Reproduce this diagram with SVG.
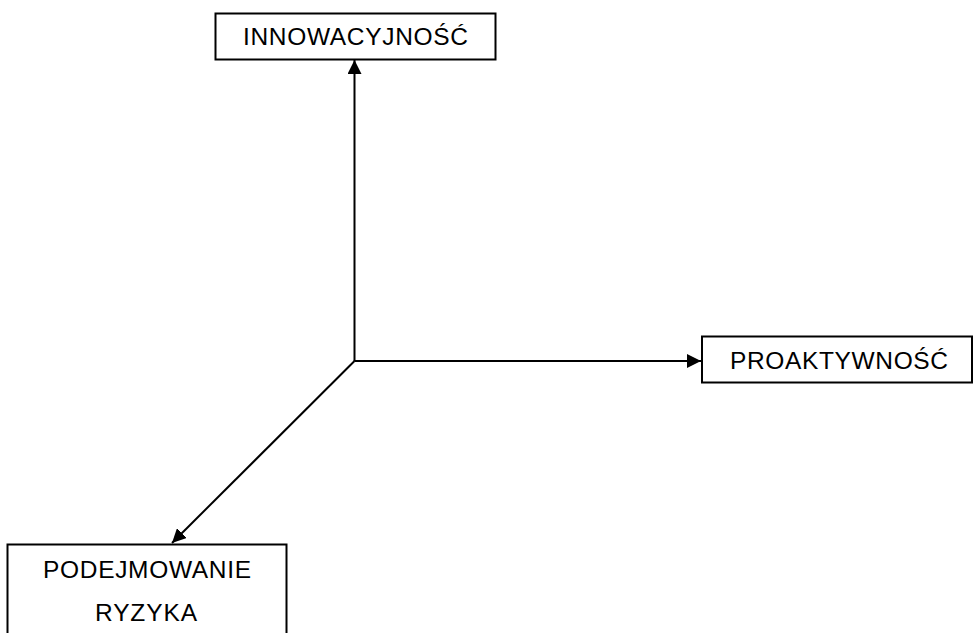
<svg xmlns="http://www.w3.org/2000/svg" width="973" height="633" viewBox="0 0 973 633">
  <style>
    .box { fill: #ffffff; stroke: #000000; stroke-width: 2; }
    .lbl { font-family: "Liberation Sans", Arial, sans-serif; font-size: 24.5px; fill: #000000; }
    .edge { fill: none; stroke: #000000; stroke-width: 2; }
  </style>
  <defs>
    <marker id="arrow" viewBox="0 0 14 14" refX="14" refY="7" markerWidth="14" markerHeight="14" markerUnits="userSpaceOnUse" orient="auto">
      <path d="M0,0 L14,7 L0,14 Z" fill="#000000"/>
    </marker>
  </defs>
  <rect width="973" height="633" fill="#ffffff"/>

  <g id="connectors">
    <line class="edge" x1="354.5" y1="361" x2="354.5" y2="60" marker-end="url(#arrow)"/>
    <line class="edge" x1="354.5" y1="361" x2="701" y2="361" marker-end="url(#arrow)"/>
    <line class="edge" x1="354.5" y1="361" x2="172" y2="543" marker-end="url(#arrow)"/>
  </g>

  <g id="innowacyjnosc">
    <rect class="box" x="215.5" y="13.5" width="280" height="46"/>
    <text class="lbl" x="243" y="45" textLength="225" lengthAdjust="spacing">INNOWACYJNOŚĆ</text>
  </g>

  <g id="proaktywnosc">
    <rect class="box" x="702" y="336.5" width="270" height="46"/>
    <text class="lbl" x="730" y="369" textLength="218" lengthAdjust="spacing">PROAKTYWNOŚĆ</text>
  </g>

  <g id="podejmowanie-ryzyka">
    <rect class="box" x="7.5" y="544.5" width="279" height="100"/>
    <text class="lbl" x="43" y="578" textLength="208" lengthAdjust="spacing">PODEJMOWANIE</text>
    <text class="lbl" x="95" y="621" textLength="102" lengthAdjust="spacing">RYZYKA</text>
  </g>
</svg>
